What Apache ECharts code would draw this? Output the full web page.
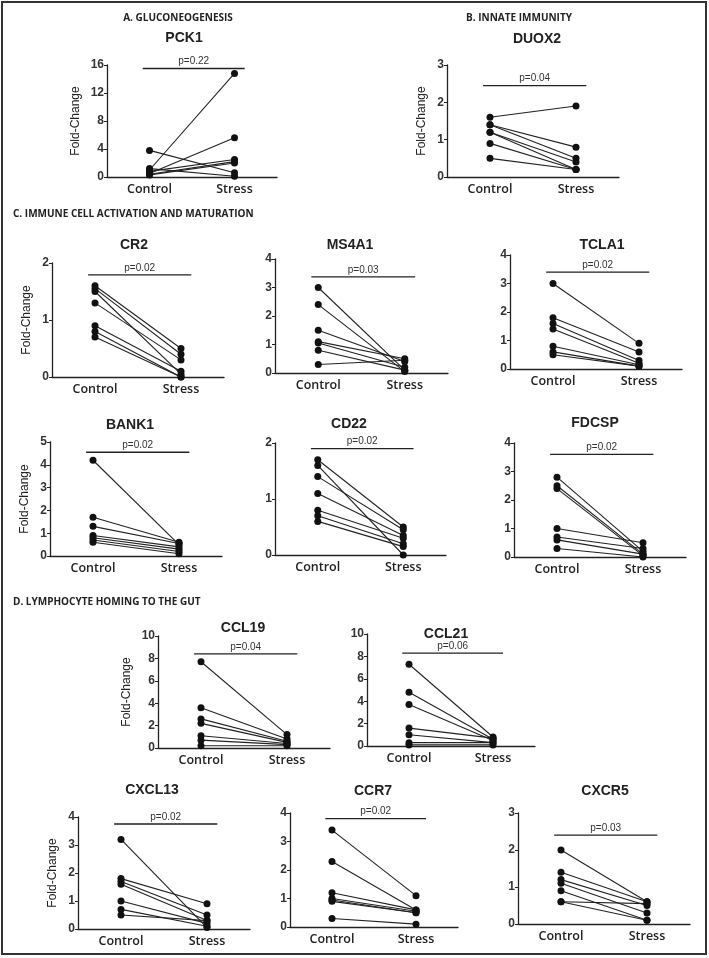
<!DOCTYPE html>
<html>
<head>
<meta charset="utf-8">
<script src="https://cdn.jsdelivr.net/npm/echarts@6/dist/echarts.min.js"></script>
<style>
  html, body { margin: 0; padding: 0; background: #fff; }
  #main { width: 709px; height: 958px; }
</style>
</head>
<body>
<div id="main"></div>
<script>
// groups on the x axis
const groups = ['Control', 'Stress']

// paired values, one entry per animal (control -> stress)
const pck1Control = [3.8, 1.0, 0.5, 0.8, 0.4, 0.3, 1.2]
const pck1Stress = [0.6, 14.8, 5.6, 2.5, 2.2, 2.0, 0.1]
const duox2Control = [1.6, 1.4, 1.4, 1.2, 1.2, 0.9, 0.5]
const duox2Stress = [1.9, 0.8, 0.5, 0.4, 0.2, 0.2, 0.2]
const cr2Control = [1.6, 1.55, 1.5, 1.3, 0.9, 0.8, 0.7]
const cr2Stress = [0.5, 0.4, 0.05, 0.3, 0.1, 0.0, 0.0]
const ms4a1Control = [3.0, 2.4, 1.5, 1.1, 1.05, 0.8, 0.3]
const ms4a1Stress = [0.1, 0.05, 0.4, 0.5, 0.2, 0.1, 0.45]
const tcla1Control = [3.0, 1.8, 1.6, 1.4, 0.8, 0.6, 0.5]
const tcla1Stress = [0.9, 0.6, 0.3, 0.2, 0.15, 0.1, 0.1]
const bank1Control = [4.2, 1.7, 1.3, 0.9, 0.8, 0.7, 0.6]
const bank1Stress = [0.5, 0.6, 0.55, 0.4, 0.3, 0.2, 0.1]
const cd22Control = [1.7, 1.6, 1.4, 1.1, 0.8, 0.7, 0.6]
const cd22Stress = [0.5, 0.0, 0.45, 0.35, 0.3, 0.2, 0.15]
const fdcspControl = [2.8, 2.5, 2.4, 1.0, 0.7, 0.6, 0.3]
const fdcspStress = [0.2, 0.1, 0.05, 0.5, 0.3, 0.1, 0.0]
const ccl19Control = [7.7, 3.6, 2.6, 2.2, 1.1, 0.7, 0.2]
const ccl19Stress = [1.2, 0.8, 0.6, 0.5, 0.4, 0.3, 0.2]
const ccl21Control = [7.3, 4.8, 3.7, 1.6, 1.0, 0.3, 0.1]
const ccl21Stress = [0.8, 0.6, 0.5, 0.7, 0.3, 0.3, 0.1]
const cxcl13Control = [3.2, 1.8, 1.7, 1.6, 1.0, 0.7, 0.5]
const cxcl13Stress = [0.05, 0.9, 0.5, 0.3, 0.2, 0.1, 0.3]
const ccr7Control = [3.4, 2.3, 1.2, 1.0, 0.95, 0.9, 0.3]
const ccr7Stress = [1.1, 0.6, 0.6, 0.55, 0.5, 0.5, 0.1]
const cxcr5Control = [2.0, 1.4, 1.2, 1.1, 0.9, 0.6, 0.6]
const cxcr5Stress = [0.6, 0.6, 0.5, 0.3, 0.1, 0.55, 0.1]

// p-values and height of the comparison bar
const pLabels = ['p=0.22', 'p=0.04', 'p=0.02', 'p=0.03', 'p=0.02', 'p=0.02', 'p=0.02',
  'p=0.02', 'p=0.04', 'p=0.06', 'p=0.02', 'p=0.02', 'p=0.03']
const barHeights = [15.5, 2.45, 1.79, 3.37, 3.4, 4.55, 1.9, 3.6, 8.4, 8.3, 3.75, 3.8, 2.4]
const yMax = [16, 3, 2, 4, 4, 5, 2, 4, 10, 10, 4, 4, 3]
const yStep = [4, 1, 1, 1, 1, 1, 1, 1, 2, 2, 1, 1, 1]

const genes = ['PCK1', 'DUOX2', 'CR2', 'MS4A1', 'TCLA1', 'BANK1', 'CD22', 'FDCSP',
  'CCL19', 'CCL21', 'CXCL13', 'CCR7', 'CXCR5']
const controls = [pck1Control, duox2Control, cr2Control, ms4a1Control, tcla1Control, bank1Control,
  cd22Control, fdcspControl, ccl19Control, ccl21Control, cxcl13Control, ccr7Control, cxcr5Control]
const stresses = [pck1Stress, duox2Stress, cr2Stress, ms4a1Stress, tcla1Stress, bank1Stress,
  cd22Stress, fdcspStress, ccl19Stress, ccl21Stress, cxcl13Stress, ccr7Stress, cxcr5Stress]

// layout: [axisLeft, axisTop, axisRight, axisBottom, titleCenterX, titleCenterY, showYName]
const boxes = [
  [107, 65, 277, 177, 184, 40, true],
  [447, 65, 619, 177, 537, 41, true],
  [52, 263, 224, 377, 134, 247, true],
  [275, 259, 448, 373, 350, 247, false],
  [510, 255, 682, 369, 602, 247, false],
  [50, 442, 222, 556, 130, 427, true],
  [275, 443, 446, 555, 349, 426, false],
  [514, 443, 686, 557, 595, 425, false],
  [158, 636, 330, 748, 243, 630, true],
  [367, 634, 535, 746, 446, 636, false],
  [78, 817, 250, 929, 152, 792, true],
  [290, 813, 458, 927, 373, 793, false],
  [518, 813, 690, 924, 605, 793, false]
]

const sections = [
  ['A. GLUCONEOGENESIS', 178, 20, 'center'],
  ['B. INNATE IMMUNITY', 519, 20, 'center'],
  ['C. IMMUNE CELL ACTIVATION AND MATURATION', 13, 216, 'left'],
  ['D. LYMPHOCYTE HOMING TO THE GUT', 13, 604, 'left']
]

const grid = [], xAxis = [], yAxis = [], series = [], title = []

sections.forEach(s => {
  title.push({
    text: s[0], left: s[1], top: s[2] - 7, textAlign: s[3], padding: 0,
    textStyle: { fontFamily: 'Open Sans', fontWeight: 'bold', fontSize: 10, color: '#222' }
  })
})

genes.forEach((g, i) => {
  const b = boxes[i]
  grid.push({ left: b[0], top: b[1], width: b[2] - b[0], height: b[3] - b[1], containLabel: false })
  title.push({
    text: g, left: b[4], top: b[5] - 9, textAlign: 'center', padding: 0,
    textStyle: { fontFamily: 'Liberation Sans', fontWeight: 'bold', fontSize: 14, color: '#222' }
  })
  xAxis.push({
    type: 'category', gridIndex: i, data: groups, boundaryGap: true,
    axisLine: { lineStyle: { color: '#222', width: 1.3 } },
    axisTick: { show: false },
    axisLabel: { margin: 6, fontFamily: 'Open Sans', fontWeight: 600, fontSize: 12.5, color: '#222' }
  })
  xAxis.push({ type: 'value', gridIndex: i, min: 0, max: 1, show: false })
  yAxis.push({
    type: 'value', gridIndex: i, min: 0, max: yMax[i], interval: yStep[i],
    name: b[6] ? 'Fold-Change' : '', nameLocation: 'middle', nameRotate: 90, nameGap: yMax[i] >= 10 ? 25 : 19,
    nameTextStyle: { fontFamily: 'Liberation Sans', fontSize: 12, color: '#222' },
    splitLine: { show: false },
    axisLine: { show: true, lineStyle: { color: '#222', width: 1.3 } },
    axisTick: { show: true, length: 3, lineStyle: { color: '#222' } },
    axisLabel: { margin: 3, fontFamily: 'Liberation Sans', fontWeight: 'bold', fontSize: 12, color: '#333' }
  })
  controls[i].forEach((c, k) => {
    series.push({
      type: 'line', xAxisIndex: 2 * i, yAxisIndex: i,
      data: [c, stresses[i][k]],
      symbol: 'circle', symbolSize: 7,
      itemStyle: { color: '#111' },
      lineStyle: { color: '#222', width: 1.1 },
      silent: true, animation: false
    })
  })
  const h = barHeights[i]
  series.push({
    type: 'line', xAxisIndex: 2 * i + 1, yAxisIndex: i,
    data: [[0.21, h], {
      value: [0.51, h],
      label: { show: true, position: 'top', distance: 2, formatter: pLabels[i],
        fontFamily: 'Liberation Sans', fontSize: 10, color: '#333' }
    }, [0.81, h]],
    symbol: 'circle', symbolSize: 0,
    lineStyle: { color: '#222', width: 1.3 },
    silent: true, animation: false
  })
})

const chart = echarts.init(document.getElementById('main'))
chart.setOption({
  backgroundColor: '#fff',
  animation: false,
  title, grid, xAxis, yAxis, series,
  graphic: [{
    type: 'rect', shape: { x: 2, y: 2, width: 704, height: 952 },
    style: { fill: 'none', stroke: '#333', lineWidth: 2 }
  }]
})
</script>
</body>
</html>
